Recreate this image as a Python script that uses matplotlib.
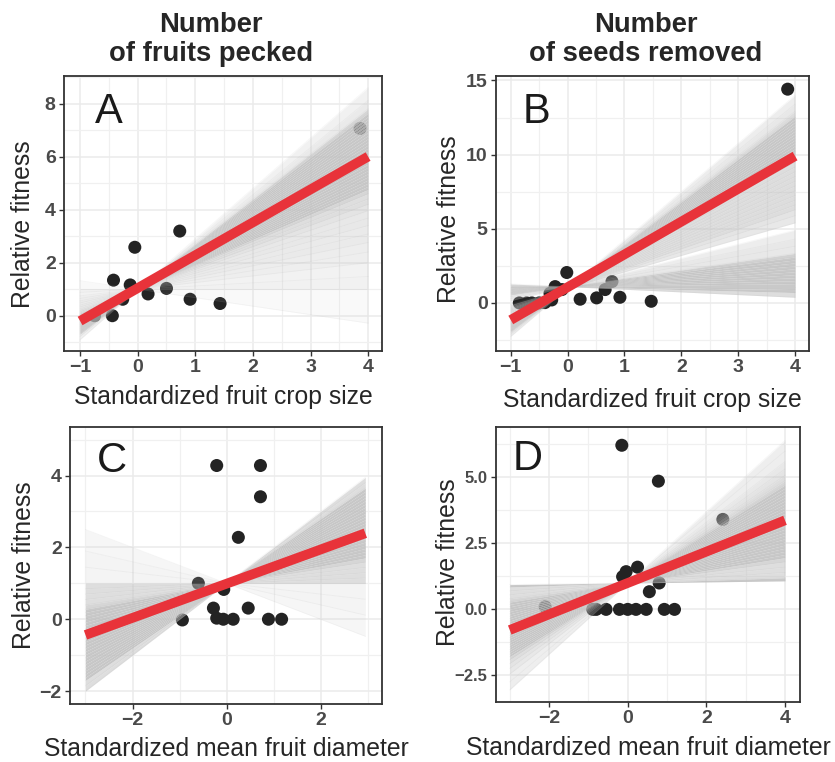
import numpy as np
import matplotlib.pyplot as plt
from matplotlib.ticker import FixedLocator

plt.rcParams['font.family'] = ['Liberation Sans', 'DejaVu Sans']

# ---- data ----
# A: fruits pecked ~ crop size
xA = [-0.75, -0.44, -0.42, -0.26, -0.13, -0.05, 0.18, 0.50, 0.73, 0.91, 1.43, 3.86]
yA = [0.0, 0.0, 1.34, 0.62, 1.16, 2.58, 0.82, 1.03, 3.19, 0.62, 0.46, 7.06]
slopesA = [1.9, 1.78, 1.7, 1.66, 1.63, 1.6, 1.57, 1.54, 1.51, 1.48, 1.45, 1.42,
           1.39, 1.36, 1.33, 1.3, 1.27, 1.24, 1.21, 1.18, 1.15, 1.12, 1.09, 1.06,
           1.03, 1.0, 0.97, 0.94, 0.9, 0.85, 0.8, 0.74, 0.67, 0.6, 0.52, 0.44,
           0.35, 0.25, 0.12, 0.0, -0.32]
icptA = 1.0
fitA = (1.04, 1.24)

# B: seeds removed ~ crop size
xB = [-0.85, -0.72, -0.63, -0.5, -0.40, -0.31, -0.28, -0.22, -0.10, -0.015,
      0.22, 0.51, 0.66, 0.78, 0.92, 1.47, 3.87]
yB = [0.0, 0.0, 0.0, 0.0, 0.02, 0.65, 0.2, 1.1, 0.9, 2.05,
      0.25, 0.34, 0.9, 1.44, 0.38, 0.11, 14.41]
slopesB_steep = [3.25, 3.1, 2.98, 2.9, 2.85, 2.8, 2.75, 2.7, 2.65, 2.6, 2.55, 2.5,
                 2.45, 2.4, 2.35, 2.3, 2.25, 2.2, 2.12, 2.04, 1.96, 1.88, 1.8,
                 1.72, 1.64, 1.56, 1.48, 1.4, 1.32, 1.22, 1.1]
slopesB_flat = [0.95, 0.8, 0.68, 0.56, 0.5, 0.45, 0.4, 0.35, 0.3, 0.25, 0.2,
                0.15, 0.1, 0.05, 0.0, -0.05, -0.1, -0.18]
icptB_steep = 1.0
icptB_flat = 1.1
fitB = (1.06, 2.21)

# C: fruits pecked ~ fruit diameter
xC = [-0.94, -0.6, -0.28, -0.21, -0.21, -0.07, -0.06, 0.14, 0.25, 0.46, 0.72, 0.72, 0.89, 1.17]
yC = [-0.02, 1.0, 0.31, 4.28, 0.03, 0.0, 0.83, 0.0, 2.28, 0.31, 4.28, 3.41, 0.0, 0.0]
slopesC = [1.0, 0.95, 0.9, 0.87, 0.84, 0.81, 0.78, 0.75, 0.72, 0.69, 0.66, 0.63,
           0.6, 0.57, 0.54, 0.51, 0.48, 0.45, 0.42, 0.39, 0.36, 0.33, 0.3, 0.27,
           0.24, 0.2, 0.15, 0.1, 0.05, 0.0, -0.15, -0.3, -0.5]
icptC = 1.0
fitC = (0.99, 0.476)

# D: seeds removed ~ fruit diameter
xD = [-2.1, -0.89, -0.8, -0.55, -0.21, -0.15, -0.13, -0.04, 0.0, 0.21, 0.25,
      0.47, 0.55, 0.78, 0.8, 0.93, 1.19, 2.42]
yD = [0.1, 0.0, 0.0, 0.0, 0.0, 6.22, 1.24, 1.43, 0.0, 0.0, 1.6,
      0.0, 0.67, 4.86, 1.0, 0.0, 0.0, 3.41]
slopesD = [1.35, 1.25, 1.15, 1.08, 1.02, 0.97, 0.93, 0.9, 0.87, 0.84, 0.81, 0.78,
           0.75, 0.72, 0.69, 0.66, 0.63, 0.6, 0.57, 0.54, 0.51, 0.48, 0.45, 0.42,
           0.39, 0.36, 0.33, 0.3, 0.27, 0.24, 0.2, 0.15, 0.1, 0.05, 0.02]
icptD = 1.0
fitD = (1.0, 0.594)

col_titles = ["Number\nof fruits pecked", "Number\nof seeds removed"]
xlab_top = "Standardized fruit crop size"
xlab_bot = "Standardized mean fruit diameter"
ylab = "Relative fitness"

fig = plt.figure(figsize=(8.35, 7.62), dpi=100)

axA = fig.add_axes([0.0766, 0.5394, 0.3808, 0.3613])
axB = fig.add_axes([0.5940, 0.5394, 0.3752, 0.3609])
axC = fig.add_axes([0.0838, 0.0761, 0.3740, 0.3639])
axD = fig.add_axes([0.5940, 0.0791, 0.3640, 0.3601])

RED = dict(color='#e8333a', lw=7, solid_capstyle='butt', zorder=5)
PTS = dict(s=88, color='#232323', edgecolors='none', zorder=2)


def fan(ax, xr, icpt, slopes, gap0):
    # shade between neighbouring draws, darker where draws are packed closely
    xs = np.array(xr, dtype=float)
    s = sorted(slopes)
    for b1, b2 in zip(s[:-1], s[1:]):
        dens = min(1.0, gap0 / (b2 - b1))
        ax.fill_between(xs, icpt + b1 * xs, icpt + b2 * xs, color='#c2c2c2',
                        alpha=0.88 * dens, lw=0, zorder=3)
    for b in s:
        ax.plot(xs, icpt + b * xs, color='#aaaaaa', alpha=0.1, lw=0.6, zorder=3)


def style(ax, xlim, ylim, xmaj, xmin, ymaj, ymin, ylabels=None, ytick_size=14):
    ax.set_xlim(xlim)
    ax.set_ylim(ylim)
    ax.xaxis.set_major_locator(FixedLocator(xmaj))
    ax.xaxis.set_minor_locator(FixedLocator(xmin))
    ax.yaxis.set_major_locator(FixedLocator(ymaj))
    ax.yaxis.set_minor_locator(FixedLocator(ymin))
    if ylabels is not None:
        ax.set_yticklabels(ylabels)
    ax.grid(which='major', color='#ebebeb', lw=1.1, zorder=0)
    ax.grid(which='minor', color='#f0f0f0', lw=0.9, zorder=0)
    ax.set_axisbelow(True)
    for s in ax.spines.values():
        s.set_color('#333333')
        s.set_linewidth(1.3)
    ax.tick_params(which='major', length=3.5, width=1, color='#333333',
                   labelcolor='#4a4a4a', pad=2.5)
    ax.tick_params(which='minor', length=0)
    for t in ax.get_xticklabels():
        t.set_fontsize(14)
        t.set_fontweight('bold')
    for t in ax.get_yticklabels():
        t.set_fontsize(ytick_size)
        t.set_fontweight('bold')


# A
axA.scatter(xA, yA, **PTS)
fan(axA, [-1, 4], icptA, slopesA, 0.03)
axA.plot([-1, 4], [fitA[0] - fitA[1], fitA[0] + 4 * fitA[1]], **RED)
style(axA, (-1.28, 4.24), (-1.33, 9.05), [-1, 0, 1, 2, 3, 4],
      [-0.5, 0.5, 1.5, 2.5, 3.5], [0, 2, 4, 6, 8], [-1, 1, 3, 5, 7, 9])

# B
axB.scatter(xB, yB, **PTS)
fan(axB, [-1, 4], icptB_steep, slopesB_steep, 0.05)
fan(axB, [-1, 4], icptB_flat, slopesB_flat, 0.05)
axB.plot([-1, 4], [fitB[0] - fitB[1], fitB[0] + 4 * fitB[1]], **RED)
style(axB, (-1.26, 4.25), (-3.24, 15.3), [-1, 0, 1, 2, 3, 4],
      [-0.5, 0.5, 1.5, 2.5, 3.5], [0, 5, 10, 15], [-2.5, 2.5, 7.5, 12.5])

# C
axC.scatter(xC, yC, **PTS)
fan(axC, [-3, 2.95], icptC, slopesC, 0.03)
axC.plot([-3, 2.95], [fitC[0] - 3 * fitC[1], fitC[0] + 2.95 * fitC[1]], **RED)
style(axC, (-3.33, 3.31), (-2.36, 5.36), [-2, 0, 2], [-3, -1, 1, 3],
      [-2, 0, 2, 4], [-1, 1, 3, 5])

# D
axD.scatter(xD, yD, **PTS)
fan(axD, [-3, 4], icptD, slopesD, 0.03)
axD.plot([-3, 4], [fitD[0] - 3 * fitD[1], fitD[0] + 4 * fitD[1]], **RED)
style(axD, (-3.35, 4.38), (-3.5, 6.9), [-2, 0, 2, 4], [-3, -1, 1, 3],
      [-2.5, 0, 2.5, 5], [-1.25, 1.25, 3.75, 6.25],
      ylabels=['\u22122.5', '0.0', '2.5', '5.0'], ytick_size=12)

# axis labels (coords: top of x label, right edge of y label)
lab = dict(fontsize=17.8, color='#262626')
for ax, xl, xy, yy in [(axA, xlab_top, -0.124, (-0.09, 0.46)),
                       (axB, xlab_top, -0.135, (-0.112, 0.48)),
                       (axC, xlab_bot, -0.119, (-0.109, 0.5)),
                       (axD, xlab_bot, -0.125, (-0.118, 0.51))]:
    ax.set_xlabel(xl, **lab)
    ax.xaxis.set_label_coords(0.5, xy)
    ax.set_ylabel(ylab, **lab)
    ax.yaxis.set_label_coords(*yy)

# panel letters
for ax, letter, px, py in [(axA, 'A', 0.097, 0.828), (axB, 'B', 0.086, 0.829),
                           (axC, 'C', 0.087, 0.837), (axD, 'D', 0.056, 0.844)]:
    ax.text(px, py, letter, transform=ax.transAxes, fontsize=30,
            color='#1a1a1a', va='baseline', ha='left', zorder=6)

# column titles
fig.text(0.2527, 0.984, col_titles[0], ha='center', va='top', fontsize=19.7,
         fontweight='bold', color='#262626', linespacing=1.15)
fig.text(0.7737, 0.984, col_titles[1], ha='center', va='top', fontsize=19.7,
         fontweight='bold', color='#262626', linespacing=1.15)

fig.savefig('out.png', dpi=100)
